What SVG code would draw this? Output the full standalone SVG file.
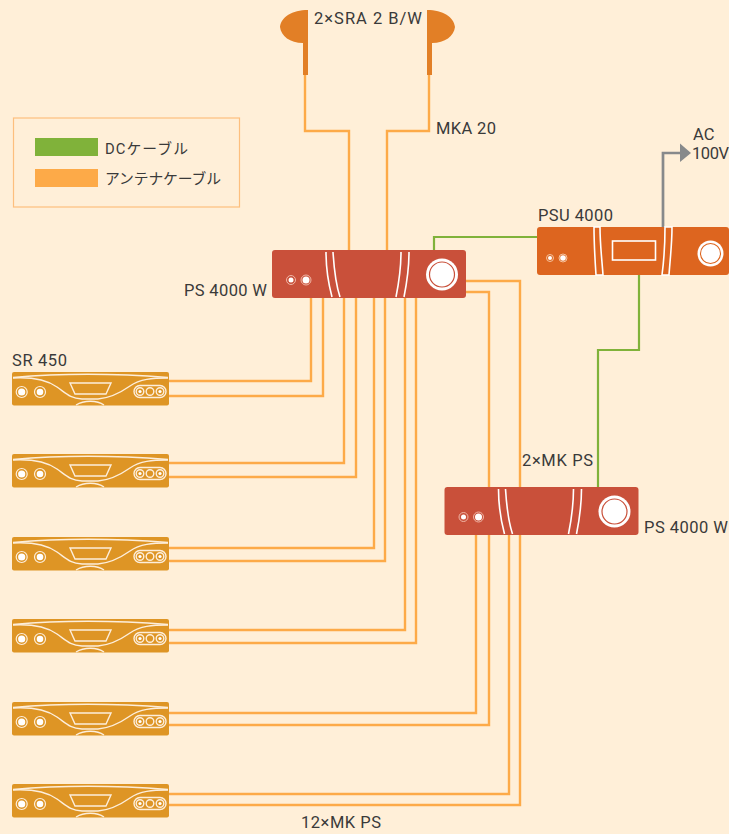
<svg xmlns="http://www.w3.org/2000/svg" width="729" height="834" viewBox="0 0 729 834">
<style>
text{font-family:"Roboto","Noto Sans CJK JP",sans-serif;font-size:16.500px;fill:#3a3a3a}
.jp{font-size:14.800px}
.a{fill:none;stroke:#fdaa48;stroke-width:2.400}
.g{fill:none;stroke:#80b23a;stroke-width:2.200}
.w{fill:none;stroke:#fff;stroke-width:1.600}
.wt{fill:none;stroke:#fdeedb;stroke-width:1.400}
.sr{fill:#de9525}
.ps{fill:#c9503a}
.psu{fill:#dd651f}
.ear{fill:#e27f26}
</style>
<defs>
<g id="sr">
<rect x="0" y="0" width="157" height="33.500" rx="2" class="sr"/>
<path class="wt" d="M1 5.500C50 1 100 1 156 5.500" stroke-width="1"/>
<path class="wt" d="M1 6C20 5 35 8 45 15S58 26 70 27H86C98 26 108 21 118 14S140 6 156 6"/>
<path class="wt" d="M58 11H99L94 22H63Z"/>
<path class="wt" d="M64 33C72 28 85 28 92 33"/>
<circle cx="9.700" cy="20" r="5.500" fill="none" stroke="#fdeedb" stroke-width="1.200"/><circle cx="9.700" cy="20" r="3.600" fill="#fff"/>
<circle cx="28" cy="20" r="5.500" fill="none" stroke="#fdeedb" stroke-width="1.200"/><circle cx="28" cy="20" r="3.300" fill="#fff"/>
<rect x="122" y="13.500" width="32" height="12" rx="6" class="wt" stroke-width="1"/>
<circle cx="128" cy="19.500" r="3.800" class="wt" stroke-width="1"/><circle cx="138" cy="19.500" r="3.800" class="wt" stroke-width="1"/><circle cx="148" cy="19.500" r="3.800" class="wt" stroke-width="1"/>
<circle cx="128" cy="19.500" r="1.600" fill="#fff"/><circle cx="148" cy="19.500" r="1.600" fill="#fff"/>
</g>
<g id="ps">
<rect x="0" y="0" width="194" height="48" rx="3" class="ps"/>
<path class="w" d="M54 2C54 18 56 32 60 47M61 2C62 18 63 32 68 47M129 2C129 18 127 32 124 47M137 2C137 18 135 32 132 47"/>
<circle cx="19" cy="30" r="4.500" fill="none" stroke="#f0b5a5" stroke-width="1"/><circle cx="19" cy="30" r="2.500" fill="#fff"/>
<circle cx="34" cy="30" r="5" fill="none" stroke="#f0b5a5" stroke-width="1"/><circle cx="34" cy="30" r="3.500" fill="#fff"/>
<circle cx="170" cy="24.500" r="16" fill="#fff"/><circle cx="170" cy="24.500" r="12.500" fill="#fff" stroke="#c9503a" stroke-width="1.200"/>
</g>
</defs>
<rect width="729" height="834" fill="#ffefd8"/>

<g id="connectors">
<path class="a" d="M305 75V131H349V250"/>
<path class="a" d="M429 75V131H387V250"/>
<path class="a" d="M311 298V381H169"/>
<path class="a" d="M323 298V396H169"/>
<path class="a" d="M344 298V463H169"/>
<path class="a" d="M356 298V477H169"/>
<path class="a" d="M374 298V548H169"/>
<path class="a" d="M385 298V561H169"/>
<path class="a" d="M405 298V630H169"/>
<path class="a" d="M416 298V643H169"/>
<path class="a" d="M476 535V713H169"/>
<path class="a" d="M466 292H489V725H169"/>
<path class="a" d="M509 535V794H169"/>
<path class="a" d="M466 281H520V805H169"/>
<path class="g" d="M434 250V237H537"/>
<path class="g" d="M639 275V350H598V487"/>
<path fill="none" stroke="#87898b" stroke-width="2.700" d="M663 227V153H681"/>
<path fill="#87898b" d="M680 143.500L691 153L680 162Z"/>
</g>

<g id="legend">
<rect x="13.500" y="118" width="226" height="89" fill="none" stroke="#fdbf7e" stroke-width="1.200"/>
<rect x="35" y="138" width="63" height="18" fill="#80b23a"/>
<rect x="35" y="169" width="63" height="18" fill="#fdaa48"/>
<text class="jp" x="105" y="154" textLength="83">DCケーブル</text>
<text class="jp" x="105" y="184" textLength="116">アンテナケーブル</text>
</g>

<g id="earphone-left">
<path class="ear" d="M308 10V75H303V43C290 43 281 36 280 27C281 17 292 10 308 10Z"/>
</g>
<g id="earphone-right">
<path class="ear" d="M427 10V75H432V43C445 43 454 36 455 27C454 17 443 10 427 10Z"/>
</g>
<text x="314" y="24" textLength="108">2×SRA 2 B/W</text>
<text x="436" y="134" textLength="60">MKA 20</text>
<text x="693" y="140">AC</text>
<text x="692" y="159" textLength="37">100V</text>
<text x="12" y="366" textLength="55">SR 450</text>
<text x="184" y="296" textLength="83">PS 4000 W</text>
<text x="522" y="466" textLength="71">2×MK PS</text>
<text x="644" y="533" textLength="84">PS 4000 W</text>
<text x="301" y="828" textLength="80">12×MK PS</text>

<g id="ps-top"><use href="#ps" x="272" y="250"/></g>
<g id="ps-bottom"><use href="#ps" x="444.500" y="487"/></g>

<g id="psu">
<text x="538" y="221" textLength="75">PSU 4000</text>
<rect x="537" y="227" width="192" height="48" rx="3" class="psu"/>
<path class="w" d="M594 227H600C600 245 602 260 603 275H596C595 260 594 245 594 227Z"/>
<path class="w" d="M665 227H672C672 245 670 260 669 275H662C664 260 665 245 665 227Z"/>
<rect x="612.500" y="241" width="43" height="19" class="w"/>
<circle cx="550" cy="258" r="3.500" fill="none" stroke="#f5c09a" stroke-width="1"/><circle cx="550" cy="258" r="2" fill="#fff"/>
<circle cx="563" cy="258" r="4" fill="none" stroke="#f5c09a" stroke-width="1"/><circle cx="563" cy="258" r="2.800" fill="#fff"/>
<circle cx="710.500" cy="253.500" r="13" fill="#fff"/><circle cx="710.500" cy="253.500" r="10" fill="#fff" stroke="#dd651f" stroke-width="1.100"/>
</g>

<g id="sr-1"><use href="#sr" x="12" y="372"/></g>
<g id="sr-2"><use href="#sr" x="12" y="454"/></g>
<g id="sr-3"><use href="#sr" x="12" y="537"/></g>
<g id="sr-4"><use href="#sr" x="12" y="619"/></g>
<g id="sr-5"><use href="#sr" x="12" y="702"/></g>
<g id="sr-6"><use href="#sr" x="12" y="784"/></g>
</svg>
